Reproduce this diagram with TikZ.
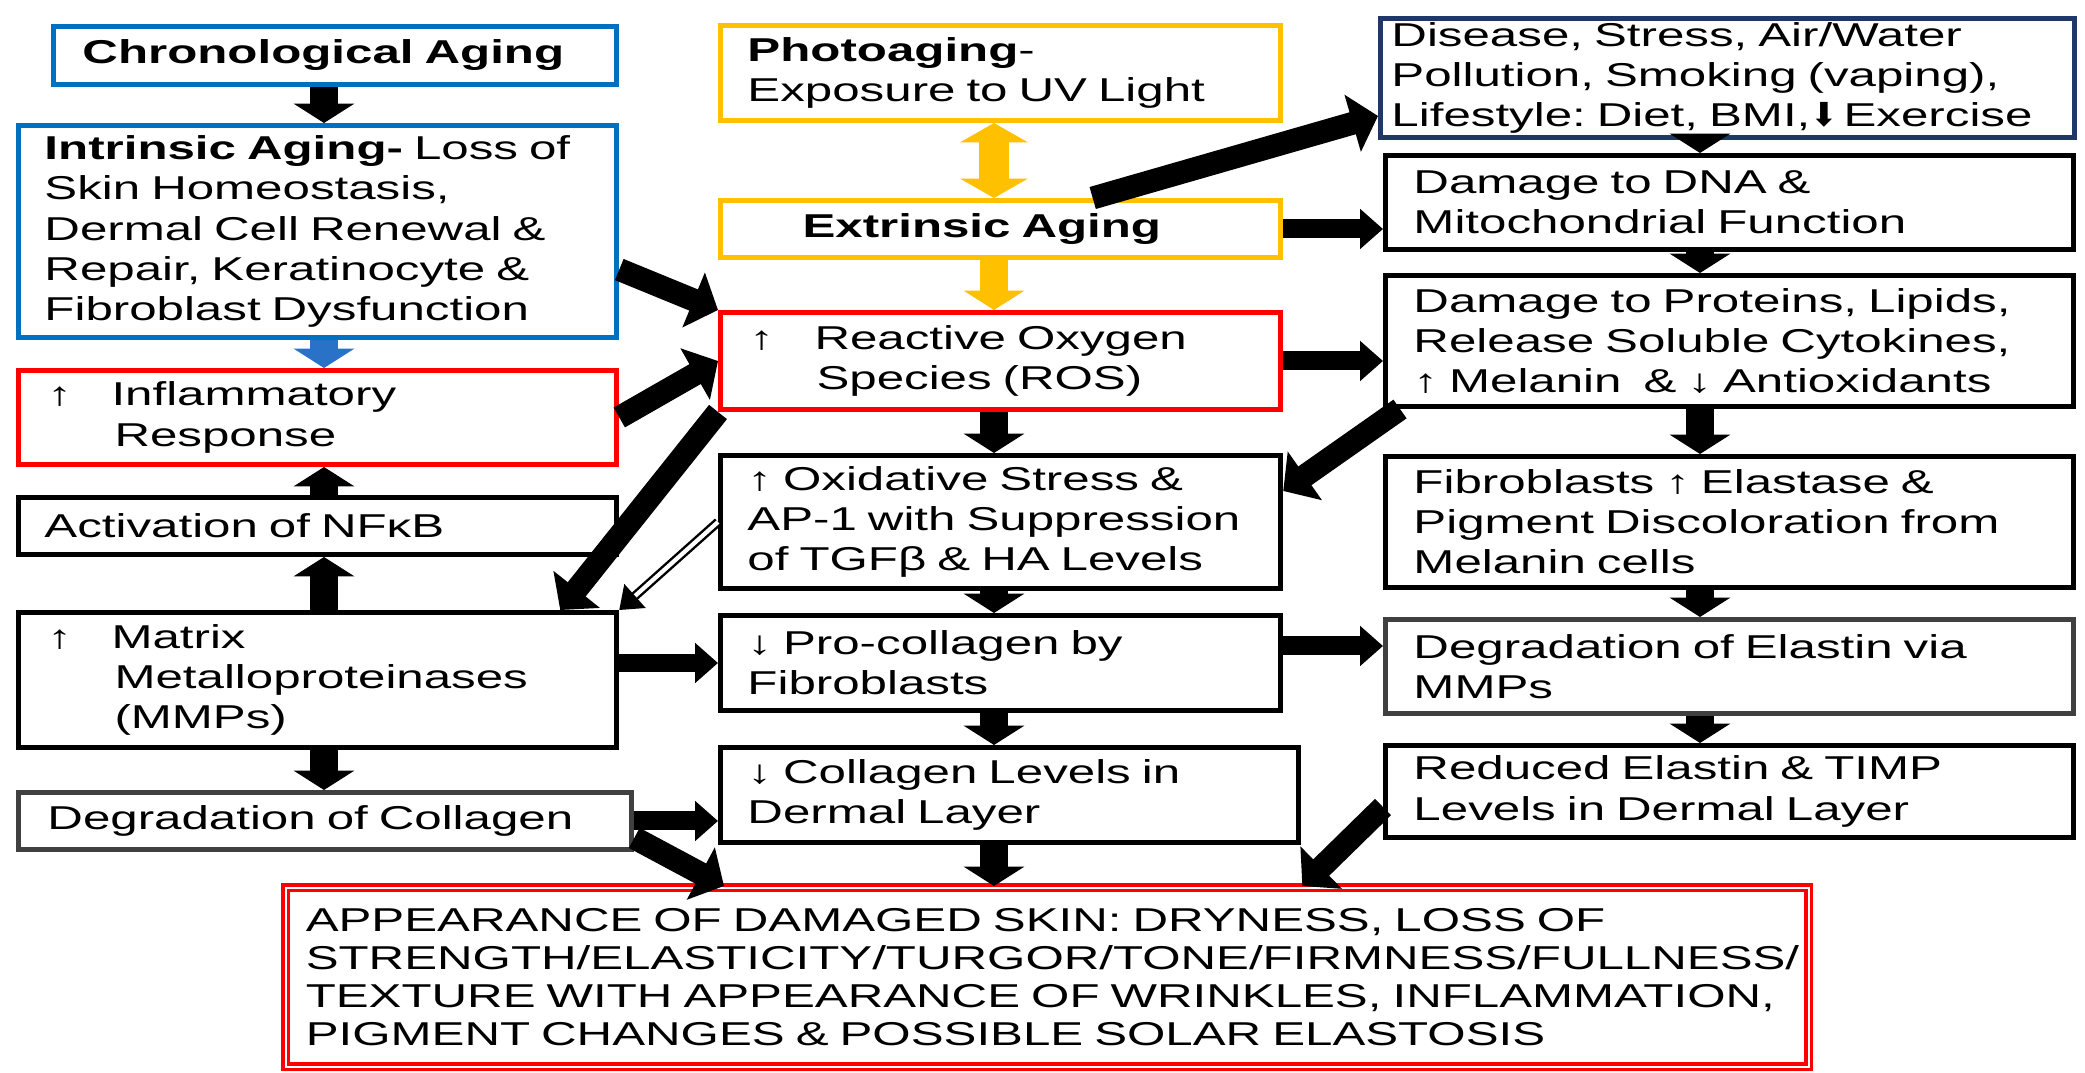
\documentclass[tikz,border=0pt]{standalone}
\usepackage{fontspec}
\setmainfont{Liberation Sans}[FakeStretch=1.49]
\newfontfamily\arrowfont{DejaVu Sans}
\usetikzlibrary{arrows.meta}
\definecolor{ageblue}{HTML}{0070C0}
\definecolor{arrowblue}{HTML}{2A72C8}
\definecolor{ageyellow}{HTML}{FFC000}
\definecolor{agered}{HTML}{FF0000}
\definecolor{agenavy}{HTML}{1F3864}
\definecolor{agegray}{HTML}{404040}
\frenchspacing

\begin{document}
\begin{tikzpicture}[x=0.01cm, y=-0.01cm,
  box/.style={draw, rectangle, line width=1.4pt, fill=white, anchor=north west,
    inner xsep=0pt, inner ysep=0pt, align=left, font=\fontsize{9.4pt}{11.4pt}\selectfont},
  varr/.style={line width=8pt, -{Triangle[width=17pt,length=5.5pt]}},
  vdbl/.style={line width=8.5pt, {Triangle[width=19pt,length=5.5pt]}-{Triangle[width=19pt,length=5.5pt]}},
  harr/.style={line width=5.4pt, -{Triangle[width=11pt,length=6.5pt]}},
  darr/.style={line width=6.5pt, -{Triangle[width=16.5pt,length=7.5pt]}},
  tarr/.style={line width=0.7pt, double=white, double distance=1.2pt, -{Triangle[width=9pt,length=6pt]}}]
\fill[white] (0,0) rectangle (2085,1073);
\useasboundingbox (0,0) rectangle (2085,1073);

% left column
\node[box, draw=ageblue, minimum width=5.63cm, minimum height=0.58cm, text width=5.05cm] (chrono) at (51,24) {\textbf{Chronological Aging}};
\node[box, draw=ageblue, minimum width=5.98cm, minimum height=2.12cm, text width=5.46cm] (intr) at (16,123)
  {\textbf{Intrinsic Aging-} Loss of\\Skin Homeostasis,\\Dermal Cell Renewal \&\\Repair, Keratinocyte \&\\Fibroblast Dysfunction};
\node[box, draw=agered, minimum width=5.98cm, minimum height=0.94cm, text width=5.40cm] (inflam) at (16,368)
  {\makebox[0.64cm][l]{↑}Inflammatory\\\hspace*{0.67cm}Response};
\node[box, minimum width=5.98cm, minimum height=0.57cm, text width=5.46cm] (nfkb) at (16,495) {Activation of NFκB};
\node[box, minimum width=5.98cm, minimum height=1.35cm, text width=5.40cm] (mmp) at (16,610)
  {\makebox[0.64cm][l]{↑}Matrix\\\hspace*{0.67cm}Metalloproteinases\\\hspace*{0.67cm}(MMPs)};
\node[box, draw=agegray, minimum width=6.13cm, minimum height=0.57cm, text width=5.55cm] (degcol) at (16,790) {Degradation of Collagen};

% middle column
\node[box, draw=ageyellow, minimum width=5.60cm, minimum height=0.95cm, text width=5.06cm] (photo) at (718,23)
  {\textbf{Photoaging}-\\Exposure to UV Light};
\node[box, draw=ageyellow, minimum width=5.60cm, minimum height=0.57cm, text width=3.96cm] (extr) at (718,198) {\textbf{Extrinsic Aging}};
\node[box, draw=agered, minimum width=5.60cm, minimum height=0.97cm, text width=5.02cm] (ros) at (718,310)
  {\makebox[0.65cm][l]{↑}Reactive Oxygen\\\hspace*{0.67cm}Species (ROS)};
\node[box, minimum width=5.60cm, minimum height=1.33cm, text width=5.06cm] (oxid) at (718,453)
  {↑ Oxidative Stress \&\\AP-1 with Suppression\\of TGFβ \& HA Levels};
\node[box, minimum width=5.60cm, minimum height=0.95cm, text width=5.06cm] (procol) at (718,613)
  {↓ Pro-collagen by\\Fibroblasts};
\node[box, minimum width=5.78cm, minimum height=0.95cm, text width=5.24cm] (collev) at (718,745)
  {↓ Collagen Levels in\\Dermal Layer};

% right column
\node[box, draw=agenavy, minimum width=6.94cm, minimum height=1.19cm, text width=6.72cm] (disease) at (1378,16)
  {Disease, Stress, Air/Water\\Pollution, Smoking (vaping),\\Lifestyle: Diet, BMI,{\arrowfont ⬇}\,Exercise};
\node[box, minimum width=6.88cm, minimum height=0.94cm, text width=6.32cm] (dna) at (1383,153)
  {Damage to DNA \&\\Mitochondrial Function};
\node[box, minimum width=6.88cm, minimum height=1.31cm, text width=6.32cm] (prot) at (1383,273)
  {Damage to Proteins, Lipids,\\Release Soluble Cytokines,\\↑ Melanin\ \ \& ↓ Antioxidants};
\node[box, minimum width=6.88cm, minimum height=1.31cm, text width=6.32cm] (fibro) at (1383,454)
  {Fibroblasts ↑ Elastase \&\\Pigment Discoloration from\\Melanin cells};
\node[box, draw=agegray, minimum width=6.88cm, minimum height=0.94cm, text width=6.32cm] (degel) at (1383,617)
  {Degradation of Elastin via\\MMPs};
\node[box, minimum width=6.88cm, minimum height=0.92cm, text width=6.32cm] (redel) at (1383,743)
  {Reduced Elastin \& TIMP\\Levels in Dermal Layer};

% outcome
\node[box, draw=agered, line width=1pt, double=white, double distance=0.5pt, minimum width=15.22cm, minimum height=1.79cm, text width=14.82cm,
  font=\fontsize{9.4pt}{10.8pt}\selectfont] (skin) at (284,886)
  {APPEARANCE OF DAMAGED SKIN: DRYNESS, LOSS OF\\STRENGTH/ELASTICITY/TURGOR/TONE/FIRMNESS/FULLNESS/\\TEXTURE WITH APPEARANCE OF WRINKLES, INFLAMMATION,\\PIGMENT CHANGES \& POSSIBLE SOLAR ELASTOSIS};

\coordinate (lcol) at (324,0);
\coordinate (mcol) at (994,0);
\coordinate (rcol) at (1700,0);

% straight arrows
\draw[varr] (chrono.south -| lcol) -- (intr.north -| lcol);
\draw[varr, arrowblue] (intr.south -| lcol) -- (inflam.north -| lcol);
\draw[varr] (nfkb.north -| lcol) -- (inflam.south -| lcol);
\draw[varr] (mmp.north -| lcol) -- (nfkb.south -| lcol);
\draw[varr] (mmp.south -| lcol) -- (degcol.north -| lcol);
\draw[vdbl, ageyellow] (photo.south -| mcol) -- (extr.north -| mcol);
\draw[varr, ageyellow] (extr.south -| mcol) -- (ros.north -| mcol);
\draw[varr] (ros.south -| mcol) -- (oxid.north -| mcol);
\draw[varr] (oxid.south -| mcol) -- (procol.north -| mcol);
\draw[varr] (procol.south -| mcol) -- (collev.north -| mcol);
\draw[varr] (collev.south -| mcol) -- (skin.north -| mcol);
\draw[varr] (disease.south -| rcol) -- (dna.north -| rcol);
\draw[varr] (dna.south -| rcol) -- (prot.north -| rcol);
\draw[varr] (prot.south -| rcol) -- (fibro.north -| rcol);
\draw[varr] (fibro.south -| rcol) -- (degel.north -| rcol);
\draw[varr] (degel.south -| rcol) -- (redel.north -| rcol);
\draw[harr] (extr.east) -- (extr.east -| dna.west);
\draw[harr] (ros.east) -- (ros.east -| prot.west);
\draw[harr] (mmp.east |- procol.west) -- (procol.west);
\draw[harr] ([yshift=0.17cm]procol.east) -- ([yshift=0.17cm]procol.east -| degel.west);
\draw[harr] (degcol.east) -- (degcol.east -| collev.west);

% slanted arrows
\draw[darr] ([yshift=-0.38cm]intr.east) -- (ros.north west);
\draw[darr] (inflam.east) -- (ros.west);
\draw[darr] (ros.south west) -- ([xshift=-0.59cm]mmp.north east);
\draw[tarr] (oxid.west) -- (mmp.north east);
\draw[darr] ([xshift=0.92cm]extr.north) -- ([yshift=0.24cm]disease.south west);
\draw[darr] ([xshift=0.17cm]prot.south west) -- ([yshift=0.31cm]oxid.east);
\draw[darr] ([yshift=0.14cm]degcol.south east) -- ([xshift=-3.23cm]skin.north);
\draw[darr] ([yshift=-0.64cm]redel.north west) -- ([xshift=2.55cm]skin.north);
\end{tikzpicture}
\end{document}
